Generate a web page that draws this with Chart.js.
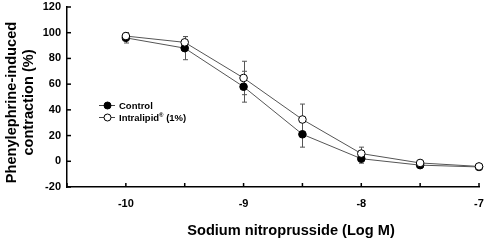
<!DOCTYPE html>
<html>
<head>
<meta charset="utf-8">
<script src="https://cdn.jsdelivr.net/npm/chart.js@4/dist/chart.umd.min.js"></script>
<style>
html,body{margin:0;padding:0;background:#fff;}
#wrap{width:486px;height:242px;position:relative;}
</style>
</head>
<body>
<div id="wrap"><canvas id="c" width="486" height="242"></canvas></div>
<script>
const doses = [-10, -9.5, -9, -8.5, -8, -7.5, -7];
const controlValues = [96, 88, 58, 21, 2, -3, -4.4];
const controlErrors = [4, 9, 12, 10, 3.5, 1, 1];
const intralipidValues = [97.4, 92.5, 64.8, 32.5, 6, -1.3, -4];
const intralipidErrors = [2.5, 4.5, 13, 12, 5, 1, 1];
const seriesNames = ['Control', 'Intralipid\u00AE (1%)'];
const yTicks = [-20, 0, 20, 40, 60, 80, 100, 120];
const xTickLabels = [-10, -9, -8, -7];
const xTitle = 'Sodium nitroprusside (Log M)';
const yTitle = ['Phenylephrine-induced', 'contraction (%)'];

const FONT = 'Liberation Sans, Arial, sans-serif';

const errorBarPlugin = {
  id: 'errorBars',
  beforeDatasetsDraw(chart) {
    const {ctx, scales: {x, y}} = chart;
    const sets = [[controlValues, controlErrors], [intralipidValues, intralipidErrors]];
    ctx.save();
    ctx.strokeStyle = '#555';
    ctx.lineWidth = 1;
    sets.forEach(([vals, errs]) => {
      doses.forEach((d, i) => {
        const px = Math.round(x.getPixelForValue(d)) + 0.5;
        const yt = y.getPixelForValue(vals[i] + errs[i]);
        const yb = y.getPixelForValue(vals[i] - errs[i]);
        ctx.beginPath();
        ctx.moveTo(px, yt); ctx.lineTo(px, yb);
        ctx.moveTo(px - 2.5, yt); ctx.lineTo(px + 2.5, yt);
        ctx.moveTo(px - 2.5, yb); ctx.lineTo(px + 2.5, yb);
        ctx.stroke();
      });
    });
    ctx.restore();
  },
  afterDraw(chart) {
    const {ctx, scales: {x, y}, chartArea} = chart;
    ctx.save();
    ctx.strokeStyle = '#000';
    ctx.lineWidth = 1.5;
    x.ticks.forEach(t => {
      const px = x.getPixelForValue(t.value);
      ctx.beginPath();
      ctx.moveTo(px, chartArea.bottom);
      ctx.lineTo(px, chartArea.bottom - 4);
      ctx.stroke();
    });
    y.ticks.forEach(t => {
      const py = y.getPixelForValue(t.value);
      ctx.beginPath();
      ctx.moveTo(chartArea.left, py);
      ctx.lineTo(chartArea.left + 4, py);
      ctx.stroke();
    });
    // axis titles
    ctx.fillStyle = '#000';
    ctx.font = 'bold 14.6px ' + FONT;
    ctx.textAlign = 'center';
    ctx.textBaseline = 'middle';
    ctx.fillText(xTitle, 291, 231);
    ctx.save();
    ctx.translate(0, 102.5);
    ctx.rotate(-Math.PI / 2);
    ctx.fillText(yTitle[0], 0, 12);
    ctx.fillText(yTitle[1], 0, 28.5);
    ctx.restore();
    // legend
    const lx = 99, rows = [105, 117];
    const styles = [
      {fill: '#000', stroke: '#000'},
      {fill: '#fff', stroke: '#000'}
    ];
    rows.forEach((ry, i) => {
      ctx.strokeStyle = '#444';
      ctx.lineWidth = 1;
      ctx.beginPath();
      ctx.moveTo(lx, ry + 0.5); ctx.lineTo(lx + 16, ry + 0.5);
      ctx.stroke();
      ctx.beginPath();
      ctx.arc(lx + 8.5, ry + 0.5, 3.5, 0, Math.PI * 2);
      ctx.fillStyle = styles[i].fill;
      ctx.fill();
      ctx.strokeStyle = styles[i].stroke;
      ctx.stroke();
      ctx.fillStyle = '#000';
      ctx.font = 'bold 9.5px ' + FONT;
      ctx.textBaseline = 'middle';
      ctx.textAlign = 'left';
      if (i === 0) {
        ctx.fillText(seriesNames[0], lx + 20, ry + 1);
      } else {
        const base = 'Intralipid';
        ctx.fillText(base, lx + 20, ry + 1);
        let w = ctx.measureText(base).width;
        ctx.font = 'bold 6px ' + FONT;
        ctx.fillText('\u00AE', lx + 20 + w, ry - 2);
        const w2 = ctx.measureText('\u00AE').width;
        ctx.font = 'bold 9.5px ' + FONT;
        ctx.fillText(' (1%)', lx + 20 + w + w2, ry + 1);
      }
    });
    ctx.restore();
  }
};

new Chart(document.getElementById('c'), {
  type: 'line',
  data: {
    datasets: [
      {
        label: seriesNames[1],
        data: doses.map((d, i) => ({x: d, y: intralipidValues[i]})),
        borderColor: '#555',
        borderWidth: 1,
        pointRadius: 3.8,
        pointBackgroundColor: '#fff',
        pointBorderColor: '#000',
        pointBorderWidth: 1,
        tension: 0,
        clip: false
      },
      {
        label: seriesNames[0],
        data: doses.map((d, i) => ({x: d, y: controlValues[i]})),
        borderColor: '#555',
        borderWidth: 1,
        pointRadius: 3.8,
        pointBackgroundColor: '#000',
        pointBorderColor: '#000',
        pointBorderWidth: 1,
        tension: 0,
        clip: false
      }
    ]
  },
  options: {
    responsive: false,
    animation: false,
    layout: {padding: 0},
    plugins: {legend: {display: false}, tooltip: {enabled: false}},
    scales: {
      x: {
        type: 'linear',
        min: -10.5,
        max: -7,
        afterBuildTicks(scale) {
          const t = [];
          for (let k = 0; k <= 7; k++) t.push({value: -10.5 + k * 0.5});
          scale.ticks = t;
        },
        afterFit(scale) { scale.height = 55; scale.paddingRight = 7; scale.paddingLeft = 0; },
        grid: {display: false, drawTicks: false},
        border: {display: true, color: '#000', width: 1.5},
        ticks: {
          color: '#000',
          font: {family: FONT, size: 11, weight: 'bold'},
          padding: 10,
          maxRotation: 0,
          autoSkip: false,
          callback: (v) => xTickLabels.includes(v) ? String(v) : ''
        },
        title: {display: false}
      },
      y: {
        min: -20,
        max: 120,
        afterBuildTicks(scale) { scale.ticks = yTicks.map(v => ({value: v})); },
        afterFit(scale) { scale.width = 67; scale.paddingTop = 7; scale.paddingBottom = 0; },
        grid: {display: false, drawTicks: false},
        border: {display: true, color: '#000', width: 1.5},
        ticks: {
          color: '#000',
          font: {family: FONT, size: 11, weight: 'bold'},
          padding: 6
        },
        title: {display: false}
      }
    }
  },
  plugins: [errorBarPlugin]
});
</script>
</body>
</html>
